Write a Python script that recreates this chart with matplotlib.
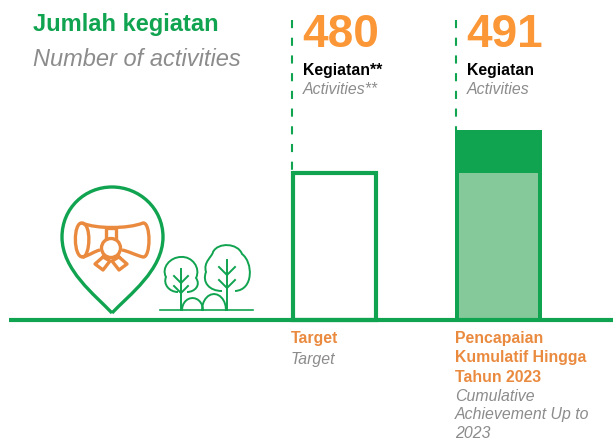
import numpy as np
import matplotlib
matplotlib.use("Agg")
import matplotlib.pyplot as plt
from matplotlib.path import Path
from matplotlib.patches import PathPatch, Circle

plt.rcParams['font.family'] = ['Liberation Sans', 'DejaVu Sans']

# values
target_value = 480
achieved_value = 491
big_labels = ['480', '491']
unit_id = ['Kegiatan**', 'Kegiatan']
unit_en = ['Activities**', 'Activities']
cat_id = ['Target', 'Pencapaian\nKumulatif Hingga\nTahun 2023']
cat_en = ['Target', 'Cumulative\nAchievement Up to\n2023']

GREEN = '#10a350'
LIGHT = '#85c99a'
ORANGE = '#fb9737'
ORANGE2 = '#ea8a3f'
GREY = '#8c8c8c'

W, H = 613, 441
fig = plt.figure(figsize=(W / 100, H / 100), dpi=100)

# pixel axes for text and icons
ax = fig.add_axes([0, 0, 1, 1])
ax.set_xlim(0, W)
ax.set_ylim(H, 0)
ax.axis('off')

# bar axes, y axis is cut off like in the original
BASE = 320
slope = (190 - 147) / (achieved_value - target_value)
y0 = target_value - 147 / slope
bx = fig.add_axes([0, 0, 1, 1], facecolor='none')
bx.set_xlim(0, W)
bx.set_ylim(y0 - (H - BASE) / slope, y0 + BASE / slope)
bx.axis('off')

# target bar
bx.bar(334.5, target_value - y0, width=83, bottom=y0, facecolor='white',
       edgecolor=GREEN, linewidth=3, zorder=2)
# achieved bar, dark top with light part up to target
bx.bar(498.5, achieved_value - y0, width=87, bottom=y0, color=GREEN, zorder=2)
bx.bar(498.5, target_value - y0, width=79, bottom=y0, color=LIGHT, zorder=3)

# baseline
bx.plot([9, W], [y0, y0], color=GREEN, lw=3, solid_capstyle='butt', zorder=4)

# dashed lines, drawn from the top down
top = y0 + 300 / slope
bx.plot([292, 292], [top, target_value], color=GREEN, lw=1.5,
        dashes=(3.9, 4.6), dash_capstyle='butt', zorder=1)
bx.plot([456, 456], [top, achieved_value], color=GREEN, lw=1.5,
        dashes=(3.9, 4.6), dash_capstyle='butt', zorder=1)

# title
ax.text(33, 25, 'Jumlah kegiatan', color=GREEN, fontsize=17, fontweight='bold', va='center')
ax.text(33, 59, 'Number of activities', color=GREY, fontsize=17, style='italic', va='center')

# labels over the bars
for x, big, u1, u2 in zip([302, 466], big_labels, unit_id, unit_en):
    ax.text(x, 35, big, color=ORANGE, fontsize=33, fontweight='bold', va='center')
    ax.text(x + 1, 70, u1, color='black', fontsize=11.4, fontweight='bold', va='center')
    ax.text(x + 1, 89, u2, color=GREY, fontsize=11.4, style='italic', va='center')

# labels under the bars
ax.text(291, 331, cat_id[0], color=ORANGE2, fontsize=11.4, fontweight='bold', va='top')
ax.text(291, 352, cat_en[0], color=GREY, fontsize=11.4, style='italic', va='top')
ax.text(455, 331, cat_id[1], color=ORANGE2, fontsize=11.4, fontweight='bold', va='top', linespacing=1.36)
ax.text(455, 389, cat_en[1], color=GREY, fontsize=11.4, style='italic', va='top', linespacing=1.28)

# pin icon
C = Path.CURVE4
pin = Path([(112, 313), (95, 295), (62, 270), (62, 237), (62, 208), (85, 187), (112, 187),
            (139, 187), (163, 208), (163, 237), (163, 270), (129, 295), (112, 313)],
           [Path.MOVETO, C, C, C, C, C, C, C, C, C, C, C, C])
ax.add_patch(PathPatch(pin, fc='white', ec=GREEN, lw=2.4))

# scroll
SW = 2.4
right = Path([(82, 223), (96, 229), (128, 229), (143, 223), (151, 222), (151, 258), (143, 257),
              (135, 255), (128, 251), (122, 250)],
             [Path.MOVETO, C, C, C, C, C, C, C, C, C])
ax.add_patch(PathPatch(right, fc='none', ec=ORANGE2, lw=SW))
left = Path([(82, 223), (73, 222), (73, 258), (83, 257), (90, 256), (92, 224), (82, 223),
             (83, 257), (90, 255), (95, 251), (100, 250)],
            [Path.MOVETO, C, C, C, C, C, C, Path.MOVETO, C, C, C])
ax.add_patch(PathPatch(left, fc='none', ec=ORANGE2, lw=SW))
ax.add_patch(Circle((111, 248), 9.5, fc='white', ec=ORANGE2, lw=SW))
ax.plot([106, 106, 116, 116], [238, 228, 228, 238], color=ORANGE2, lw=SW)
ax.plot([103, 95, 103, 110, 103], [257, 264, 270, 261, 257], color=ORANGE2, lw=SW)
ax.plot([119, 127, 119, 112, 119], [257, 264, 270, 261, 257], color=ORANGE2, lw=SW)

# trees
TW = 1.4
ax.plot([160, 253], [310, 310], color=GREEN, lw=1.2)
small = Path([(178, 292), (169, 292), (163, 284), (166, 277), (161, 268), (170, 257), (181, 257),
              (192, 256), (201, 268), (196, 278), (201, 285), (195, 292), (187, 292)],
             [Path.MOVETO, C, C, C, C, C, C, C, C, C, C, C, C])
ax.add_patch(PathPatch(small, fc='none', ec=GREEN, lw=TW))
big = Path([(222, 291), (209, 291), (202, 282), (206, 272), (203, 262), (212, 257), (213, 252),
            (218, 242), (238, 243), (242, 254), (253, 262), (254, 290), (235, 291)],
           [Path.MOVETO, C, C, C, C, C, C, C, C, C, C, C, C])
ax.add_patch(PathPatch(big, fc='none', ec=GREEN, lw=TW))
ax.plot([181, 181], [269, 310], color=GREEN, lw=TW)
ax.plot([227, 227], [260, 310], color=GREEN, lw=TW)
for tx, ty, d in [(181, 283, 7), (181, 293, 7), (227, 275, 8), (227, 288, 8)]:
    ax.plot([tx - d, tx, tx + d], [ty - d, ty, ty - d], color=GREEN, lw=TW)
for bush_x, bush_w, bush_h in [(192.5, 10.5, 12), (214, 12, 16)]:
    t = np.radians(np.arange(180, 361, 15))
    ax.plot(bush_x + bush_w * np.cos(t), 310 + bush_h * np.sin(t), color=GREEN, lw=TW)

fig.savefig('out.png', dpi=100)
